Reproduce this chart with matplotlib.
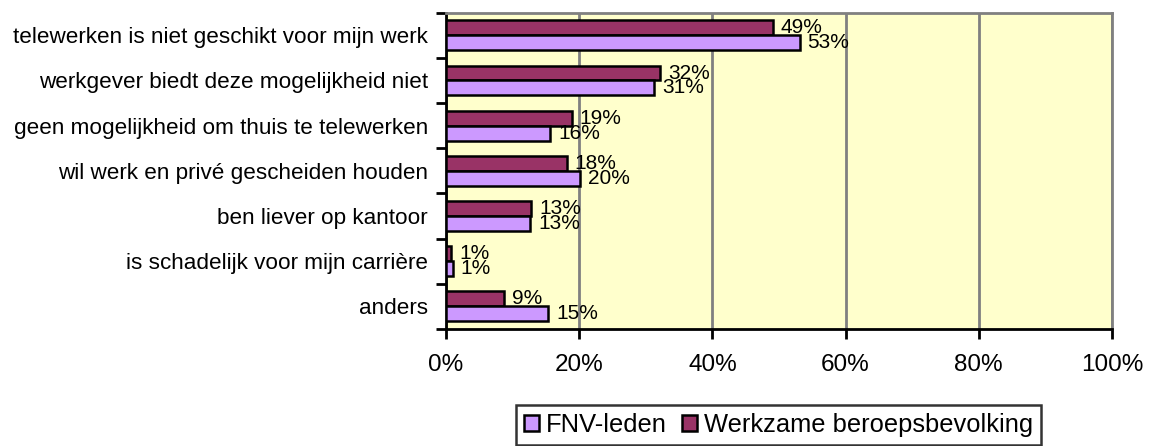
import matplotlib
matplotlib.use("Agg")
import matplotlib.pyplot as plt
import numpy as np
from matplotlib.patches import Patch

categories = [
    "telewerken is niet geschikt voor mijn werk",
    "werkgever biedt deze mogelijkheid niet",
    "geen mogelijkheid om thuis te telewerken",
    "wil werk en privé gescheiden houden",
    "ben liever op kantoor",
    "is schadelijk voor mijn carrière",
    "anders",
]
werkzame = [49.1, 32.2, 18.9, 18.1, 12.8, 0.8, 8.7]
fnv = [53.1, 31.3, 15.6, 20.1, 12.6, 1.0, 15.3]
xticks = [0, 20, 40, 60, 80, 100]
series_names = ["FNV-leden", "Werkzame beroepsbevolking"]

plt.rcParams["font.family"] = ["Liberation Sans", "DejaVu Sans"]

fig = plt.figure(figsize=(11.5, 4.46), dpi=100)
ax = fig.add_axes([446/1150, 1-329/446, (1112-446)/1150, (329-12.7)/446])
ax.set_facecolor("#FFFFCC")

maroon = "#993366"
lilac = "#CC99FF"
h = 0.33
y = np.arange(len(categories))
ax.barh(y - h/2, werkzame, height=h, color=maroon, edgecolor="black", linewidth=1.8, zorder=3)
ax.barh(y + h/2, fnv, height=h, color=lilac, edgecolor="black", linewidth=1.8, zorder=3)

for yi, v in zip(y, werkzame):
    ax.text(v + 1.2, yi - h/2, f"{v:.0f}%", va="center", ha="left", fontsize=15, zorder=4)
for yi, v in zip(y, fnv):
    ax.text(v + 1.2, yi + h/2, f"{v:.0f}%", va="center", ha="left", fontsize=15, zorder=4)

ax.set_xlim(0, 100)
ax.set_ylim(len(categories) - 0.5, -0.5)
ax.set_xticks(xticks)
ax.set_xticklabels([f"{t}%" for t in xticks], fontsize=17.5)
ax.xaxis.grid(True, color="#808080", linewidth=2, zorder=0)
ax.set_axisbelow(True)

ax.set_yticks(y)
ax.set_yticklabels(categories, fontsize=16.2)
ax.set_yticks(np.arange(len(categories) + 1) - 0.5, minor=True)
ax.tick_params(axis="y", which="major", length=0, pad=13)
ax.tick_params(axis="y", which="minor", length=7, width=2, color="black", direction="out")
ax.tick_params(axis="x", which="major", length=7, width=2, color="black", direction="out", pad=11)

for s in ["top", "right"]:
    ax.spines[s].set_color("#808080")
    ax.spines[s].set_linewidth(2)
for s in ["left", "bottom"]:
    ax.spines[s].set_color("black")
    ax.spines[s].set_linewidth(2)

handles = [Patch(facecolor=lilac, edgecolor="black", linewidth=1.8),
           Patch(facecolor=maroon, edgecolor="black", linewidth=1.8)]
leg = fig.legend(handles, series_names, loc="center", bbox_to_anchor=(778.5/1150, 1-425/446),
                 ncol=2, fontsize=18.4, frameon=True, fancybox=False, handlelength=0.6,
                 handleheight=0.6, handletextpad=0.25, columnspacing=0.6, borderpad=0.3,
                 borderaxespad=0)
leg.get_frame().set_edgecolor("black")
leg.get_frame().set_linewidth(1.8)

fig.savefig("out.png", dpi=100)
